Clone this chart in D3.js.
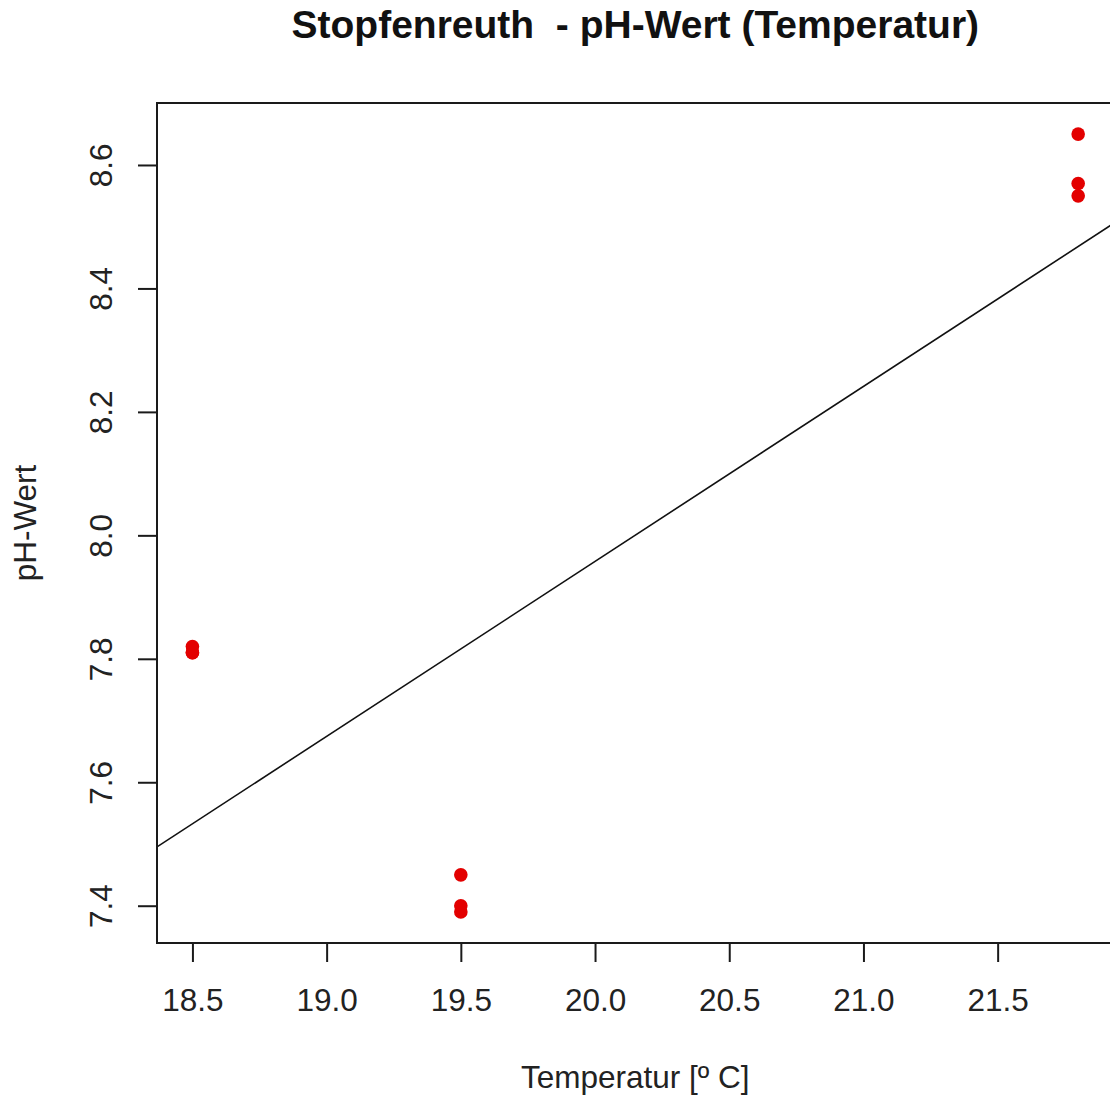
<!DOCTYPE html>
<html><head><meta charset="utf-8">
<script src="https://cdn.jsdelivr.net/npm/d3@7"></script>
<style>body{margin:0;background:#fff}svg{display:block}text{white-space:pre}</style>
</head><body>
<script>
const title = "Stopfenreuth  - pH-Wert (Temperatur)";
const xLabel = "Temperatur [º C]";
const yLabel = "pH-Wert";
const temperature = [18.5, 18.5, 18.5, 19.5, 19.5, 19.5, 21.8, 21.8, 21.8];
const ph = [7.82, 7.81, 7.81, 7.45, 7.40, 7.39, 8.65, 8.57, 8.55];
const xTicks = [18.5, 19.0, 19.5, 20.0, 20.5, 21.0, 21.5];
const yTicks = [7.4, 7.6, 7.8, 8.0, 8.2, 8.4, 8.6];

const W = 1110, H = 1099;
const plot = {left: 157, right: 1113.6, top: 103, bottom: 943};
const svg = d3.select("body").append("svg").attr("width", W).attr("height", H);

function padded(ext) { const r = ext[1] - ext[0]; return [ext[0] - 0.04 * r, ext[1] + 0.04 * r]; }
const x = d3.scaleLinear().domain(padded(d3.extent(temperature))).range([plot.left, plot.right]);
const y = d3.scaleLinear().domain(padded(d3.extent(ph))).range([plot.bottom, plot.top]);

// regression
const mx = d3.mean(temperature), my = d3.mean(ph);
let sxy = 0, sxx = 0;
temperature.forEach((t, i) => { sxy += (t - mx) * (ph[i] - my); sxx += (t - mx) ** 2; });
const b = sxy / sxx, a = my - b * mx;

svg.append("clipPath").attr("id", "c").append("rect")
  .attr("x", plot.left).attr("y", plot.top).attr("width", plot.right - plot.left).attr("height", plot.bottom - plot.top);

const xd = x.domain();
svg.append("line").attr("clip-path", "url(#c)")
  .attr("x1", x(xd[0])).attr("y1", y(a + b * xd[0]))
  .attr("x2", x(xd[1])).attr("y2", y(a + b * xd[1]))
  .attr("stroke", "#111").attr("stroke-width", 1.6);

svg.append("g").selectAll("circle").data(temperature).join("circle")
  .attr("cx", d => x(d)).attr("cy", (d, i) => y(ph[i])).attr("r", 6.8)
  .attr("fill", "#e30000");

// box
svg.append("rect").attr("x", plot.left).attr("y", plot.top)
  .attr("width", plot.right - plot.left).attr("height", plot.bottom - plot.top)
  .attr("fill", "none").attr("stroke", "#1a1a1a").attr("stroke-width", 2);

const font = "Liberation Sans, Arial, sans-serif";
const fs = 31.5;
// x axis
const xa = svg.append("g").attr("transform", `translate(0,${plot.bottom})`)
  .call(d3.axisBottom(x).tickValues(xTicks).tickFormat(d3.format(".1f")).tickSize(19).tickPadding(0));
xa.select(".domain").remove();
xa.selectAll(".tick line").attr("stroke", "#1a1a1a").attr("stroke-width", 2);
xa.selectAll(".tick text").attr("y", 68).attr("dy", null).attr("fill", "#222")
  .attr("font-size", fs).attr("font-family", font);

// y axis
const ya = svg.append("g").attr("transform", `translate(${plot.left},0)`)
  .call(d3.axisLeft(y).tickValues(yTicks).tickFormat(d3.format(".1f")).tickSize(19).tickPadding(0));
ya.select(".domain").remove();
ya.selectAll(".tick line").attr("stroke", "#1a1a1a").attr("stroke-width", 2);
ya.selectAll(".tick text").attr("x", null).attr("dy", null)
  .attr("text-anchor", "middle").attr("transform", "translate(-45,0) rotate(-90)")
  .attr("fill", "#222").attr("font-size", fs).attr("font-family", font);

const cx = (plot.left + plot.right) / 2;
svg.append("text").attr("x", cx).attr("y", 38).attr("text-anchor", "middle")
  .attr("font-family", font).attr("font-weight", "bold").attr("font-size", 39).attr("fill", "#111").text(title);
svg.append("text").attr("x", cx).attr("y", 1088).attr("text-anchor", "middle")
  .attr("font-family", font).attr("font-size", fs).attr("fill", "#222").text(xLabel);
svg.append("text").attr("transform", `translate(36,${(plot.top + plot.bottom) / 2}) rotate(-90)`)
  .attr("text-anchor", "middle").attr("font-family", font).attr("font-size", fs).attr("fill", "#222").text(yLabel);
</script>
</body></html>
